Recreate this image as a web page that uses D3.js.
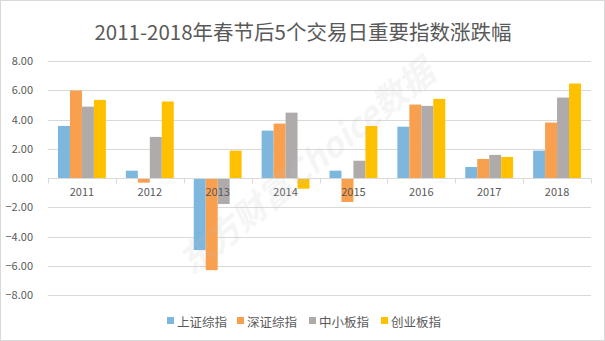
<!DOCTYPE html>
<html>
<head>
<meta charset="utf-8">
<script src="https://cdn.jsdelivr.net/npm/d3@7"></script>
<style>
  html, body { margin: 0; padding: 0; background: #fff; }
  svg { display: block; }
</style>
</head>
<body>
<svg id="chart" width="605" height="341"></svg>
<script>
// Years on the category axis
const years = ["2011", "2012", "2013", "2014", "2015", "2016", "2017", "2018"];
// Index names (legend order)
const seriesNames = ["上证综指", "深证综指", "中小板指", "创业板指"];
// Percentage change over the first 5 trading days after Spring Festival
const shComposite = [3.56, 0.50, -4.93, 3.24, 0.50, 3.51, 0.75, 1.87];
const szComposite = [5.98, -0.32, -6.30, 3.72, -1.64, 5.02, 1.30, 3.79];
const smeIndex    = [4.88, 2.81, -1.78, 4.47, 1.18, 4.93, 1.58, 5.50];
const chinext     = [5.34, 5.23, 1.87, -0.73, 3.56, 5.41, 1.44, 6.46];
// Value axis ticks
const yTicks = [8, 6, 4, 2, 0, -2, -4, -6, -8];

const seriesValues = [shComposite, szComposite, smeIndex, chinext];
const colors = ["#7db7de", "#f9a04f", "#afabab", "#ffc000"];
const textColor = "#595959";
const gridColor = "#d9d9d9";
const font = "'Noto Sans CJK SC', 'Noto Sans', sans-serif";

const svg = d3.select("#chart");
const W = 605, H = 341;

// Outer frame
svg.append("rect")
  .attr("x", 0.5).attr("y", 0.5)
  .attr("width", W - 1).attr("height", H - 1)
  .attr("fill", "#fff").attr("stroke", gridColor);

// Title
svg.append("text")
  .attr("x", 303).attr("y", 40)
  .attr("text-anchor", "middle")
  .attr("font-family", font)
  .attr("font-size", 20.5)
  .attr("fill", textColor)
  .text("2011-2018年春节后5个交易日重要指数涨跌幅");

const plot = { left: 48, right: 591, top: 61, bottom: 295 };

const y = d3.scaleLinear().domain([-8, 8]).range([plot.bottom, plot.top]);
const x0 = d3.scaleBand().domain(years).range([plot.left, plot.right]).padding(0);
const x1 = d3.scaleBand().domain(d3.range(seriesNames.length))
  .range([10, x0.bandwidth() - 10]).padding(0);

// Horizontal gridlines
svg.append("g").selectAll("line")
  .data(yTicks.filter(t => t !== 0))
  .join("line")
  .attr("x1", plot.left).attr("x2", plot.right)
  .attr("y1", d => Math.round(y(d)) + 0.5).attr("y2", d => Math.round(y(d)) + 0.5)
  .attr("stroke", gridColor).attr("stroke-width", 1);

// Value axis labels
const yAxis = d3.axisLeft(y).tickValues(yTicks).tickFormat(d3.format(".2f")).tickSize(0).tickPadding(15);
const yg = svg.append("g").attr("transform", `translate(${plot.left},0)`).call(yAxis);
yg.select(".domain").remove();
yg.selectAll("text")
  .attr("font-family", font).attr("font-size", 11).attr("fill", textColor);

// Bars
const groups = svg.append("g").selectAll("g")
  .data(years)
  .join("g")
  .attr("transform", d => `translate(${x0(d)},0)`);

groups.selectAll("rect")
  .data((d, i) => seriesValues.map((s, k) => ({ k, v: s[i] })))
  .join("rect")
  .attr("x", d => x1(d.k))
  .attr("width", x1.bandwidth())
  .attr("y", d => y(Math.max(0, d.v)))
  .attr("height", d => Math.abs(y(d.v) - y(0)))
  .attr("fill", d => colors[d.k]);

// Category axis line and tick marks
const zeroY = Math.round(y(0)) + 0.5;
svg.append("line")
  .attr("x1", plot.left).attr("x2", plot.right)
  .attr("y1", zeroY).attr("y2", zeroY)
  .attr("stroke", gridColor);
const boundaries = years.map(d => x0(d)).concat([plot.right]);
svg.append("g").selectAll("line")
  .data(boundaries)
  .join("line")
  .attr("x1", d => Math.round(d) + 0.5).attr("x2", d => Math.round(d) + 0.5)
  .attr("y1", zeroY).attr("y2", zeroY + 5)
  .attr("stroke", gridColor);

// Category labels
svg.append("g").selectAll("text")
  .data(years)
  .join("text")
  .attr("x", d => x0(d) + x0.bandwidth() / 2)
  .attr("y", 196)
  .attr("text-anchor", "middle")
  .attr("font-family", font).attr("font-size", 11)
  .attr("fill", textColor)
  .text(d => d);

// Watermark, laid faintly over the plot
svg.append("text")
  .attr("transform", "translate(305,165) rotate(-39)")
  .attr("text-anchor", "middle")
  .attr("dominant-baseline", "central")
  .attr("font-family", font)
  .attr("font-size", 34)
  .attr("font-weight", "bold")
  .attr("font-style", "italic")
  .attr("fill", "#bfbfbf")
  .attr("opacity", 0.15)
  .text("东方财富Choice数据");

// Legend
const legendX = [167, 237, 309, 381];
const legend = svg.append("g").selectAll("g")
  .data(seriesNames)
  .join("g")
  .attr("transform", (d, i) => `translate(${legendX[i]},321)`);
legend.append("rect")
  .attr("x", 0).attr("y", -4).attr("width", 7).attr("height", 7)
  .attr("fill", (d, i) => colors[i]);
legend.append("text")
  .attr("x", 10).attr("y", 0)
  .attr("dominant-baseline", "central")
  .attr("font-family", font).attr("font-size", 12.5)
  .attr("fill", textColor)
  .text(d => d);
</script>
</body>
</html>
